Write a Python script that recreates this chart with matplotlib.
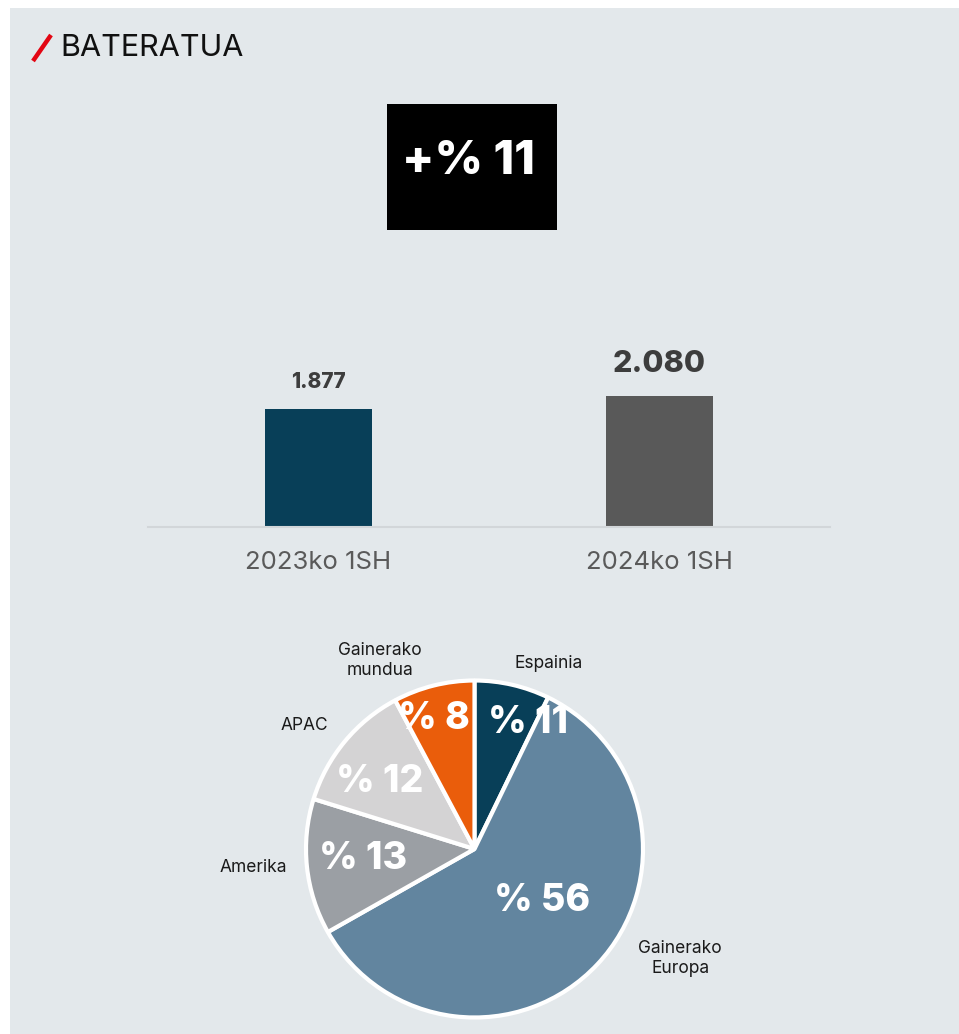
import matplotlib
matplotlib.use("Agg")
import matplotlib.pyplot as plt
from matplotlib.patches import Rectangle
from matplotlib.lines import Line2D

# datos
periods = ["2023ko 1SH", "2024ko 1SH"]
sales = [1877, 2080]
sales_labels = ["1.877", "2.080"]
growth_label = "+% 11"

regions = ["Espainia", "Gainerako\nEuropa", "Amerika", "APAC", "Gainerako\nmundua"]
shares = [7.2, 59.6, 13.0, 12.4, 7.8]          # tamaño de los sectores tal como se dibujan
share_labels = ["% 11", "% 56", "% 13", "% 12", "% 8"]

BG = "#e3e8eb"
W, H = 959, 1034
plt.rcParams['font.family'] = ['Inter', 'DejaVu Sans']

fig = plt.figure(figsize=(W / 100, H / 100), dpi=100, facecolor="white")


def box(x0, y0, x1, y1):
    # pixel box (top-left origin) -> figure fraction
    return [x0 / W, 1 - y1 / H, (x1 - x0) / W, (y1 - y0) / H]


# fondo del panel
fig.patches.append(Rectangle((10 / W, 0), 1 - 10 / W, 1 - 8 / H, transform=fig.transFigure,
                             facecolor=BG, edgecolor="none", zorder=-10))

# titulo con la barra roja
fig.add_artist(Line2D([33 / W, 51 / W], [1 - 61 / H, 1 - 35 / H], transform=fig.transFigure,
                      color="#e30613", lw=3.2, solid_capstyle="butt"))
fig.text(60 / W, 1 - 48 / H, "BATERATUA", fontsize=22, color="#111111", va="center", ha="left")

# caja negra con el crecimiento
fig.patches.append(Rectangle((387 / W, 1 - 230 / H), 170 / W, 126 / H, transform=fig.transFigure,
                             facecolor="black", edgecolor="none", zorder=1))
fig.text(469 / W, 1 - 162 / H, growth_label, fontsize=34, fontweight="heavy", color="white",
         ha="center", va="center", zorder=2)

# barras
ax = fig.add_axes(box(148, 340, 830, 527))
ax.set_facecolor("none")
x = range(len(periods))
ax.bar(x, sales, width=0.314, color=["#083f58", "#595959"], zorder=2)
ax.set_xlim(-0.5, 1.5)
ax.set_ylim(0, 1877 * 187 / 118)
for s in ["top", "right", "left"]:
    ax.spines[s].set_visible(False)
ax.spines["bottom"].set_color("#d2d6d9")
ax.spines["bottom"].set_linewidth(1.5)
ax.set_yticks([])
ax.set_xticks(list(x))
ax.set_xticklabels(periods, fontsize=18.5, color="#5a5a5a")
ax.tick_params(axis="x", length=0, pad=17)
ax.annotate(sales_labels[0], (0, sales[0]), xytext=(0, 12), textcoords="offset points",
            ha="center", va="bottom", fontsize=15, fontweight="heavy", color="#3d3d3d")
ax.annotate(sales_labels[1], (1, sales[1]), xytext=(0, 13), textcoords="offset points",
            ha="center", va="bottom", fontsize=22, fontweight="heavy", color="#3d3d3d")

# tarta
r = 168.5
cx, cy = 474.5, 849
k = 1.5
pax = fig.add_axes(box(cx - k * r, cy - k * r, cx + k * r, cy + k * r))
pax.set_facecolor("none")
pax.pie(shares, colors=["#083f58", "#62859f", "#9b9fa4", "#d4d3d4", "#ea5d0b"],
        startangle=90, counterclock=False, radius=1,
        wedgeprops=dict(edgecolor="white", linewidth=3, joinstyle="bevel"))
pax.set_xlim(-k, k)
pax.set_ylim(-k, k)
pax.set_aspect("equal")
pax.axis("off")

in_pos = [(0.32, 0.75), (0.40, -0.31), (-0.66, -0.06), (-0.56, 0.40), (-0.24, 0.77)]
out_pos = [(0.44, 1.10), (1.22, -0.65), (-1.31, -0.11), (-1.01, 0.73), (-0.56, 1.12)]
for lab, (px, py) in zip(share_labels, in_pos):
    pax.text(px, py, lab, ha="center", va="center", fontsize=27, fontweight="heavy", color="white")
for reg, (px, py) in zip(regions, out_pos):
    pax.text(px, py, reg, ha="center", va="center", fontsize=12.5, color="#1a1a1a",
             linespacing=1.25)

fig.savefig("out.png", dpi=100, facecolor="white")
